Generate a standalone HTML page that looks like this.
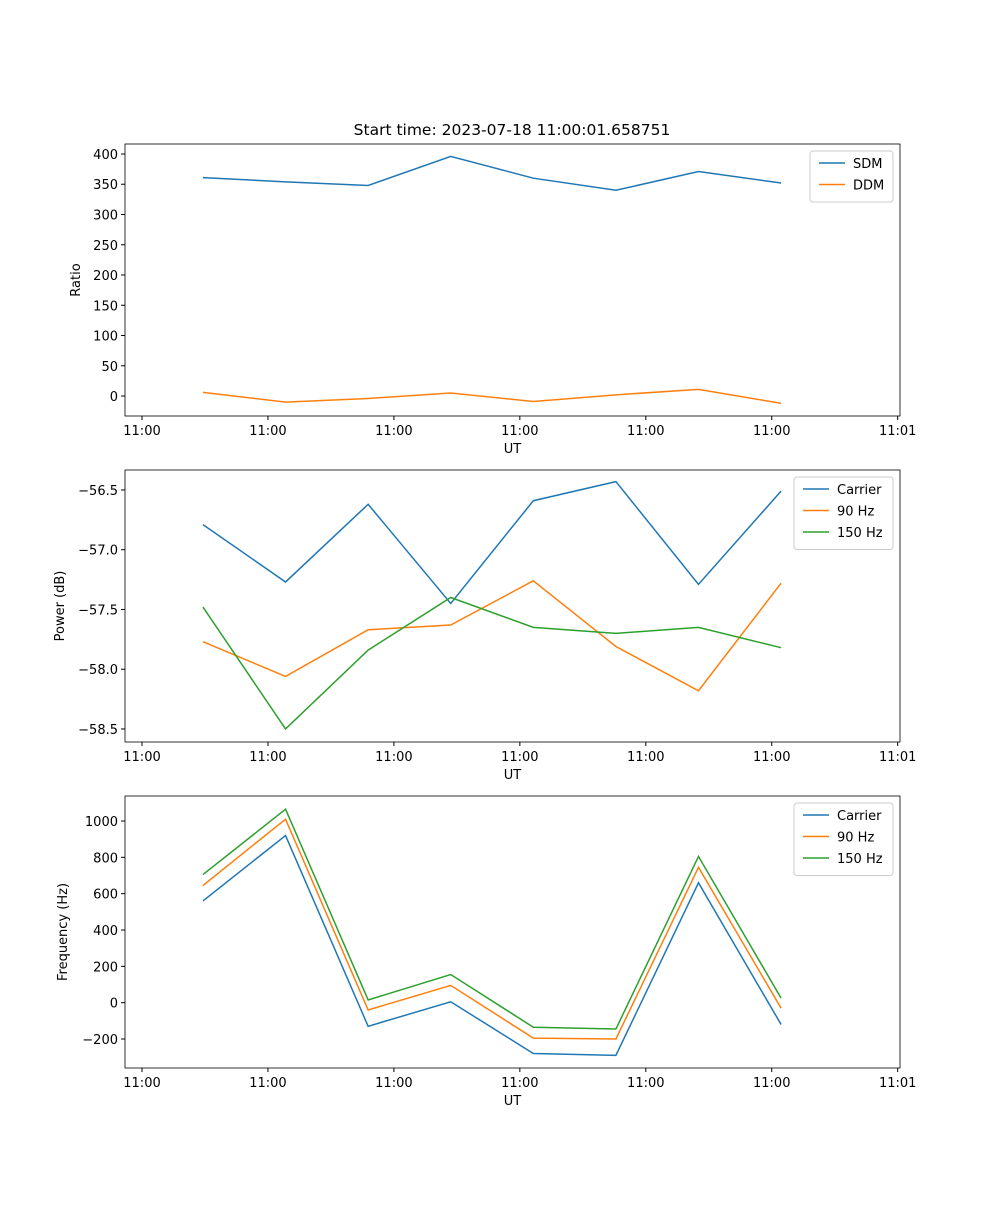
<!DOCTYPE html>
<html><head><meta charset="utf-8"><style>
body{margin:0;background:#fff;font-family:"Liberation Sans","DejaVu Sans",sans-serif}
svg text{font-family:"DejaVu Sans","Liberation Sans",sans-serif;font-size:13px;fill:#000}
</style></head><body>
<svg id="c" width="1000" height="1200" xmlns="http://www.w3.org/2000/svg">
<rect width="1000" height="1200" fill="#fff"/>
<text x="512" y="135" text-anchor="middle" style="font-size:15.5px">Start time: 2023-07-18 11:00:01.658751</text>
</svg>
<script>
const pointIndex=[0,1,2,3,4,5,6,7];
const xTickPos=[-0.738,0.787,2.312,3.837,5.362,6.887,8.412];
const xTickLabels=["11:00","11:00","11:00","11:00","11:00","11:00","11:01"];
const sdm=[361,354,348,396,360,340,371,352];
const ddm=[6,-10,-4,5,-9,2,11,-12];
const pCarrier=[-56.79,-57.27,-56.62,-57.45,-56.59,-56.43,-57.29,-56.51];
const p90=[-57.77,-58.06,-57.67,-57.63,-57.26,-57.81,-58.18,-57.28];
const p150=[-57.48,-58.50,-57.84,-57.40,-57.65,-57.70,-57.65,-57.82];
const fCarrier=[560,920,-130,5,-280,-290,660,-120];
const f90=[645,1010,-40,95,-195,-200,745,-30];
const f150=[705,1065,15,155,-135,-145,805,25];
const yTicks1=[0,50,100,150,200,250,300,350,400];
const yTicks2=[-58.5,-58.0,-57.5,-57.0,-56.5];
const yTicks3=[-200,0,200,400,600,800,1000];
const C=['#1f77b4','#ff7f0e','#2ca02c'];
const svg=document.getElementById('c');
const NS='http://www.w3.org/2000/svg';
function mk(t,a,p){const e=document.createElementNS(NS,t);for(const k in a)e.setAttribute(k,a[k]);(p||svg).appendChild(e);return e;}
const L=125,R=900,X0=-0.944,X1=8.44;
const xs=v=>L+(v-X0)/(X1-X0)*(R-L);
function panel(name,top,bot,y0,y1,yt,fmt,ylabel,series,names,legW){
  const g=mk('g',{});
  
  
  const ys=v=>bot-(v-y0)/(y1-y0)*(bot-top);
  xTickPos.forEach((t,i)=>{const x=xs(t);
    const l=mk('line',{x1:x,x2:x,y1:bot,y2:bot+4,stroke:'#000'},g);
    
    const tx=mk('text',{x:x,y:bot+19,'text-anchor':'middle'},g);tx.textContent=xTickLabels[i];
    });
  yt.forEach(v=>{const y=ys(v);
    const l=mk('line',{x1:L-4,x2:L,y1:y,y2:y,stroke:'#000'},g);
    
    const tx=mk('text',{x:L-7,y:y+5,'text-anchor':'end'},g);tx.textContent=fmt(v);
    });
  const xl=mk('text',{x:(L+R)/2,y:bot+37,'text-anchor':'middle'},g);xl.textContent='UT';
  
  const yl=mk('text',{x:0,y:0,'text-anchor':'middle',transform:`translate(${ylabel[1]},${(top+bot)/2}) rotate(-90)`},g);yl.textContent=ylabel[0];
  
  series.forEach((s,k)=>{
    const p=mk('polyline',{points:s.map((v,i)=>xs(pointIndex[i])+','+ys(v)).join(' '),fill:'none',stroke:C[k],'stroke-width':1.5},g);
    
    });
  const fr=mk('rect',{x:L,y:top,width:R-L,height:bot-top,fill:'none',stroke:'#000','stroke-width':0.8},g);
  
  const lg=mk('g',{},g);
  
  mk('rect',{x:R-7-legW,y:top+7,width:legW,height:8+names.length*21.5,rx:3,fill:'#fff',stroke:'#ccc'},lg);
  names.forEach((n,k)=>{const y=top+19+k*21.5;
    const ll=mk('line',{x1:R-legW+2,x2:R-legW+28,y1:y,y2:y,stroke:C[k],'stroke-width':1.5},lg);
    
    const t=mk('text',{x:R-legW+36,y:y+5},lg);t.textContent=n;
    });
}
panel('ratio-panel',144,416,-33,416.5,yTicks1,v=>v,['Ratio',80],[sdm,ddm],['SDM','DDM'],83);
panel('power-panel',470,742,-58.609,-56.333,yTicks2,v=>(v<0?'\u2212':'')+Math.abs(v).toFixed(1),['Power (dB)',64],[pCarrier,p90,p150],['Carrier','90 Hz','150 Hz'],99);
panel('frequency-panel',796,1068,-359.6,1137.6,yTicks3,v=>(v<0?'\u2212':'')+Math.abs(v),['Frequency (Hz)',67],[fCarrier,f90,f150],['Carrier','90 Hz','150 Hz'],99);
</script>
</body></html>
